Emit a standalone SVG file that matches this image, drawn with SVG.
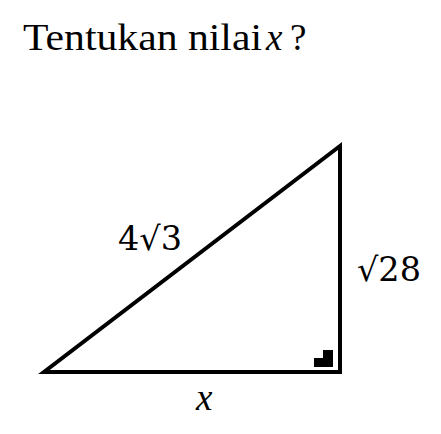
<svg xmlns="http://www.w3.org/2000/svg" width="441" height="434" viewBox="0 0 441 434">
<style>
text{font-family:"Liberation Serif","DejaVu Serif",serif;fill:#000}
.t{font-size:37px}
.l{font-family:"DejaVu Serif","Liberation Serif",serif;font-size:33px}
.i{font-style:italic}
</style>
<rect width="441" height="434" fill="#fff"/>
<g id="title">
<text class="t" x="23" y="50" textLength="239" lengthAdjust="spacingAndGlyphs">Tentukan nilai</text>
<text class="t i" x="266" y="50">x</text>
<text class="t" x="290" y="50">?</text>
</g>
<g id="connectors">
<polygon points="44,372 340,372 340,146" fill="none" stroke="#000" stroke-width="4" stroke-linejoin="miter"/>
</g>
<g id="right-angle">
<path d="M323,350 H333 V367 H314 V358 H323 Z" fill="#000"/>
</g>
<g id="label-hyp"><text class="l" x="118" y="250" textLength="64" lengthAdjust="spacingAndGlyphs">4√3</text></g>
<g id="label-vert"><text class="l" x="357" y="281" textLength="64" lengthAdjust="spacingAndGlyphs">√28</text></g>
<g id="label-base"><text class="t i" x="196" y="410">x</text></g>
</svg>
